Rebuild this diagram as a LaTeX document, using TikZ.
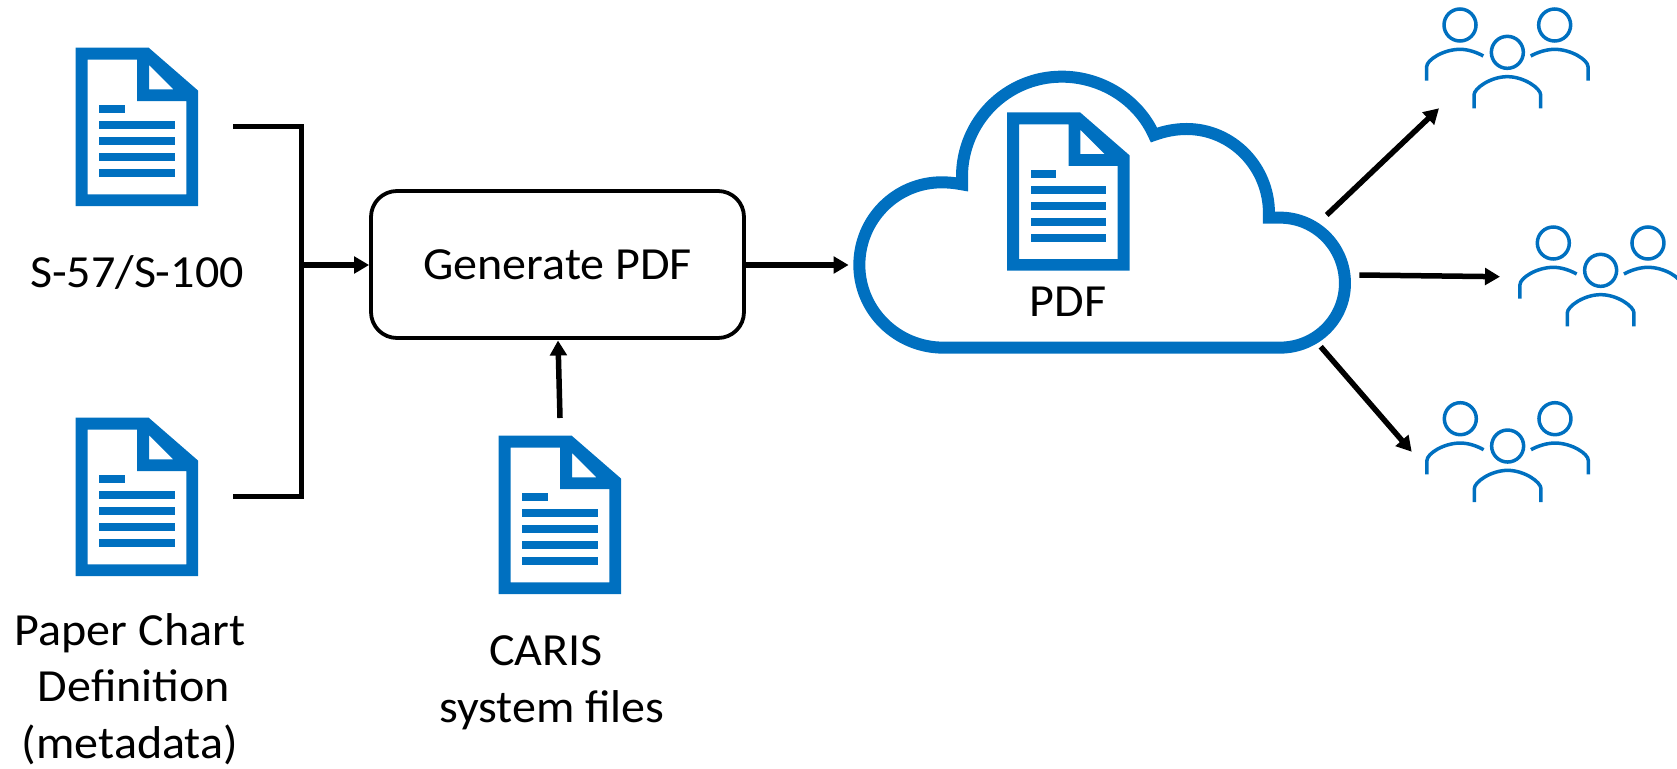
\documentclass[tikz,border=0pt]{standalone}
\usepackage{fontspec}
\setmainfont[FakeStretch=1.045]{Carlito}
\usetikzlibrary{arrows.meta}
\definecolor{docblue}{HTML}{0070C0}
\tikzset{
  docicon/.pic={
    \fill[docblue,even odd rule]
      (0,0) -- (73,0) -- (122.5,43) -- (122.5,158.3) -- (0,158.3) -- cycle
      (12,12) -- (61.5,12) -- (61.5,53.5) -- (110.7,53.5) -- (110.7,146.7) -- (12,146.7) -- cycle
      (73.3,17.3) -- (97.7,41.7) -- (73.3,41.7) -- cycle;
    \fill[docblue] (23.5,57.3) rectangle (49.3,65.3);
    \fill[docblue] (23.5,73.3) rectangle (99,81.3);
    \fill[docblue] (23.5,89.3) rectangle (99,97.3);
    \fill[docblue] (23.5,105.3) rectangle (99,113.3);
    \fill[docblue] (23.5,121.3) rectangle (99,129.3);
  },
  usergroup/.pic={
    \begin{scope}[x=0.3333pt,y=-0.3333pt,draw=docblue,line width=3.5pt]
      \draw (0,0) circle[radius=16pt];
      \draw (142,82) circle[radius=16pt];
      \draw (284,0) circle[radius=16pt];
      \draw (-100,167) -- (-100,125) .. controls (-100,105) and (-50,73) .. (0,73) .. controls (25,73) and (50,82) .. (70,93);
      \draw (42,250) -- (42,210) .. controls (42,190) and (92,155) .. (142,155) .. controls (192,155) and (242,190) .. (242,210) -- (242,250);
      \draw (212,93) .. controls (232,82) and (259,73) .. (284,73) .. controls (334,73) and (384,105) .. (384,125) -- (384,167);
    \end{scope}
  },
  blackline/.style={draw=black,line width=5.5pt,miter limit=10},
  flow/.style={blackline,-{Triangle[length=15pt,width=16.5pt]}},
  label/.style={font=\fontsize{46}{57.5}\selectfont,inner sep=0pt,outer sep=0pt,anchor=base,align=center},
  process/.style={draw=black,line width=3.8pt,rounded corners=26pt,minimum width=373pt,minimum height=147pt,inner sep=0pt,fill=white,font=\fontsize{46}{57.5}\selectfont},
  cloudline/.style={draw=docblue,line width=12pt,miter limit=10,line join=miter}
}
\begin{document}
\begin{tikzpicture}[x=1pt,y=-1pt]
\clip (0,0) rectangle (1677,768);
% icons
\pic (docA) at (75.7,47.7) {docicon};
\pic (docB) at (75.7,417.7) {docicon};
\pic (docC) at (498.7,435.7) {docicon};
% labels
\node[label] (lblA) at (137,287) {S-57/S-100};
\node[label] (lblB) at (130,758) {Paper Chart\\[-1.25pt]\hspace*{8pt}Definition\\[-1.25pt](metadata)};
\node[label] (lblC) at (552,722.7) {\hspace*{-12pt}CARIS\\system files};
% process box
\node[process] (box) at (557.5,264.5) {\raisebox{-3pt}{Generate PDF}};
% cloud
\begin{scope}[shift={(840,50)},x=0.3333pt,y=-0.3333pt]
\draw[cloudline] (310,893) .. controls (171,893) and (58,782) .. (58,645)
  .. controls (58,508) and (168,397) .. (305,397)
  .. controls (325,397) and (346,399) .. (366,403)
  -- (366,380)
  .. controls (366,214) and (500,80) .. (665,80)
  .. controls (783,80) and (893.5,147.5) .. (942,255)
  .. controls (975,243) and (1007,237) .. (1040,237)
  .. controls (1176,237) and (1287,350) .. (1287,490)
  -- (1287,503) -- (1320,503)
  .. controls (1428,503) and (1515,591) .. (1515,700)
  .. controls (1515,807) and (1428,893) .. (1320,893)
  -- cycle;
\end{scope}
\pic (docD) at (1007,112.3) {docicon};
\node[label] (lblD) at (1068,316.7) {PDF};
% users
\pic (usersA) at (1460,25) {usergroup};
\pic (usersB) at (1553.3,243) {usergroup};
\pic (usersC) at (1460.3,418.7) {usergroup};
% connector anchors
\coordinate (inA) at (233,126.7);
\coordinate (cornerA) at (301.7,126.7);
\coordinate (inB) at (233,496.7);
\coordinate (cornerB) at (301.7,496.7);
\coordinate (junction) at (301.7,265);
\coordinate (fromC) at (560,418);
\coordinate (toC) at (558,340.5);
\coordinate (toCloud) at (848.6,265);
\coordinate (cloudA) at (1326.7,215);
\coordinate (tipA) at (1439,108.3);
\coordinate (cloudB) at (1359.3,275);
\coordinate (tipB) at (1500,276.7);
\coordinate (cloudC) at (1320.7,346.7);
\coordinate (tipC) at (1411.7,451.7);
% connectors
\draw[blackline] (inA) -- (cornerA) -- (cornerB) -- (inB);
\draw[flow] (junction) -- (box.west |- junction);
\draw[flow] (fromC) -- (toC);
\draw[flow] (box.east |- toCloud) -- (toCloud);
\draw[flow] (cloudA) -- (tipA);
\draw[flow] (cloudB) -- (tipB);
\draw[flow] (cloudC) -- (tipC);
\end{tikzpicture}
\end{document}
